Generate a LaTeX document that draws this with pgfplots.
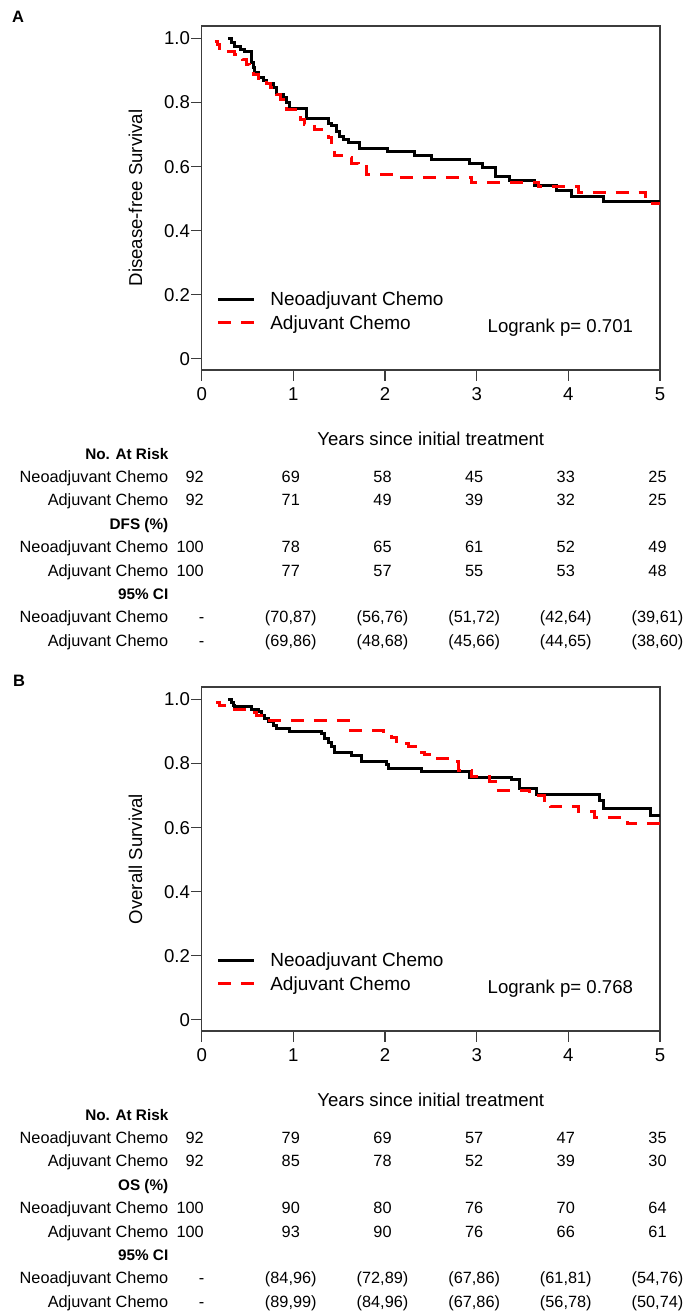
\documentclass[border=0pt]{standalone}
\usepackage{pgfplots}
\pgfplotsset{compat=1.18}
\usepackage{fontspec}
\setmainfont{Liberation Sans}
\definecolor{axgray}{RGB}{60,60,60}
\definecolor{kmred}{RGB}{255,0,0}
\newcommand\fa{\fontsize{18.6}{22}\selectfont}
\newcommand\fl{\fontsize{19}{23}\selectfont}
\newcommand\ft{\fontsize{16.3}{19}\selectfont}
\newcommand\fb{\fontsize{15.3}{18}\selectfont\bfseries}
% table row: y, label, col0, c1..c5
\newcommand\tabrow[7]{%
  \node[anchor=base east,inner sep=0pt,font=\ft] at (168.5pt,-#1pt) {#2};
  \node[anchor=base east,inner sep=0pt,font=\ft] at (204pt,-#1pt) {#3};
  \node[anchor=base,inner sep=0pt,font=\ft] at (290.8pt,-#1pt) {#4};
  \node[anchor=base,inner sep=0pt,font=\ft] at (382.5pt,-#1pt) {#5};
  \node[anchor=base,inner sep=0pt,font=\ft] at (474.2pt,-#1pt) {#6};
  \node[anchor=base,inner sep=0pt,font=\ft] at (565.8pt,-#1pt) {#7};
}
\newcommand\lastcol[2]{\node[anchor=base,inner sep=0pt,font=\ft] at (657.5pt,-#1pt) {#2};}
\newcommand\dashrow[1]{\node[anchor=base,inner sep=0pt,font=\ft] at (201.7pt,-#1pt) {-};}
\newcommand\head[2]{\node[anchor=base east,inner sep=0pt,font=\fb] at (168.5pt,-#1pt) {#2};}
\pgfplotsset{
  kmaxis/.style={
    scale only axis, width=458.3pt, height=344pt,
    xmin=0, xmax=5, ymin=-0.035, ymax=1.039,
    axis line style={axgray, line width=1.3pt},
    xtick={0,1,2,3,4,5}, xticklabels={0,1,2,3,4,5},
    ytick={0,0.2,0.4,0.6,0.8,1}, yticklabels={0,0.2,0.4,0.6,0.8,1.0},
    tick align=outside, major tick length=10.5pt,
    xtick pos=left, ytick pos=left,
    every tick/.style={axgray, line width=1.3pt},
    tick label style={font=\fa},
    /pgf/number format/assume math mode=true,
    xticklabel style={anchor=north, inner sep=0pt, yshift=-7pt},
    yticklabel style={anchor=east, inner sep=0pt, xshift=-1pt},
    legend image code/.code={\draw[##1] (0pt,1.7pt) -- (35.6pt,1.7pt);},
    legend cell align=left,
    legend style={draw=none, fill=none, inner sep=0pt, outer sep=0pt,
      font=\fl, row sep=5.3pt, at={(axis cs:0.1636,0.209)}, anchor=north west,
      nodes={inner sep=0pt, text height=14pt, text depth=4pt},
      /tikz/every odd column/.append style={column sep=15pt}},
  },
  neo/.style={black, line width=3pt, const plot},
  adj/.style={kmred, line width=3pt, const plot, dash pattern=on 13pt off 10pt},
}
\begin{document}
\begin{tikzpicture}
\useasboundingbox (0pt,0pt) rectangle (686pt,-1314pt);
% ---------------- Panel A ----------------
\begin{axis}[kmaxis, at={(201.7pt,-370pt)}, anchor=south west]
\addplot[neo] coordinates {
(0.287,1.0) (0.32,0.989) (0.36,0.976) (0.42,0.966) (0.47,0.958) (0.542,0.924)
(0.56,0.91) (0.579,0.893) (0.615,0.877) (0.67,0.869) (0.706,0.861) (0.779,0.846)
(0.815,0.825) (0.888,0.815) (0.924,0.799) (0.953,0.780) (1.143,0.749) (1.379,0.736)
(1.416,0.728) (1.470,0.71) (1.507,0.695) (1.543,0.684) (1.598,0.676) (1.725,0.658)
(2.027,0.646) (2.318,0.634) (2.507,0.622) (2.926,0.609) (3.060,0.596) (3.210,0.570)
(3.362,0.556) (3.635,0.542) (3.872,0.525) (4.036,0.507) (4.381,0.492) (5.0,0.492)};
\addlegendentry{Neoadjuvant Chemo}
\addplot[adj] coordinates {
(0.142,0.992) (0.17,0.98) (0.197,0.968) (0.27,0.958) (0.36,0.95) (0.45,0.934)
(0.49,0.919) (0.524,0.90) (0.56,0.888) (0.62,0.875) (0.651,0.867) (0.706,0.861)
(0.75,0.846) (0.815,0.825) (0.86,0.81) (0.888,0.799) (0.924,0.778) (1.08,0.747)
(1.12,0.731) (1.234,0.716) (1.379,0.69) (1.416,0.665) (1.452,0.634) (1.55,0.627)
(1.634,0.611) (1.707,0.601) (1.80,0.576) (2.107,0.565) (2.944,0.551) (3.67,0.537)
(4.11,0.52) (4.84,0.486) (5.0,0.486)};
\addlegendentry{Adjuvant Chemo}
\end{axis}
\node[anchor=base west,inner sep=0pt,font=\fa] at (487.5pt,-332.7pt) {Logrank p= 0.701};
\node[anchor=base,inner sep=0pt,font=\fa] at (430.8pt,-445pt) {Years since initial treatment};
\node[anchor=base,rotate=90,inner sep=0pt,font=\fa] at (142pt,-198pt) {Disease-free Survival};
\node[anchor=base west,inner sep=0pt,font=\fontsize{16.5}{19}\selectfont\bfseries] at (12pt,-22.3pt) {A};
\head{459}{No. At Risk}
\tabrow{482.4}{Neoadjuvant Chemo}{92}{69}{58}{45}{33}\lastcol{482.4}{25}
\tabrow{505.8}{Adjuvant Chemo}{92}{71}{49}{39}{32}\lastcol{505.8}{25}
\head{529.2}{DFS (\%)}
\tabrow{552.6}{Neoadjuvant Chemo}{100}{78}{65}{61}{52}\lastcol{552.6}{49}
\tabrow{576}{Adjuvant Chemo}{100}{77}{57}{55}{53}\lastcol{576}{48}
\head{599.4}{95\% CI}
\tabrow{622.8}{Neoadjuvant Chemo}{}{(70,87)}{(56,76)}{(51,72)}{(42,64)}\lastcol{622.8}{(39,61)}\dashrow{622.8}
\tabrow{646.2}{Adjuvant Chemo}{}{(69,86)}{(48,68)}{(45,66)}{(44,65)}\lastcol{646.2}{(38,60)}\dashrow{646.2}
% ---------------- Panel B ----------------
\begin{axis}[kmaxis, at={(201.7pt,-1031pt)}, anchor=south west]
\addplot[neo] coordinates {
(0.287,1.0) (0.32,0.99) (0.342,0.982) (0.36,0.979) (0.542,0.969) (0.615,0.961)
(0.651,0.951) (0.688,0.941) (0.724,0.93) (0.779,0.92) (0.815,0.911) (0.961,0.901)
(1.306,0.894) (1.343,0.878) (1.379,0.865) (1.416,0.852) (1.452,0.836) (1.634,0.826)
(1.743,0.807) (2.016,0.797) (2.034,0.784) (2.398,0.774) (2.926,0.758) (3.381,0.749)
(3.472,0.722) (3.654,0.703) (4.345,0.684) (4.381,0.659) (4.891,0.639) (5.0,0.639)};
\addlegendentry{Neoadjuvant Chemo}
\addplot[adj] coordinates {
(0.16,0.99) (0.197,0.98) (0.25,0.969) (0.542,0.96) (0.6,0.95) (0.7,0.935)
(1.6,0.902) (1.98,0.893) (2.07,0.881) (2.12,0.862) (2.26,0.853) (2.33,0.836)
(2.43,0.829) (2.5,0.815) (2.74,0.805) (2.8,0.779) (2.944,0.761) (3.144,0.743)
(3.2,0.717) (3.58,0.70) (3.745,0.685) (3.8,0.665) (4.11,0.649) (4.29,0.633)
(4.58,0.628) (4.64,0.6125) (5.0,0.6125)};
\addlegendentry{Adjuvant Chemo}
\end{axis}
\node[anchor=base west,inner sep=0pt,font=\fa] at (487.5pt,-993.7pt) {Logrank p= 0.768};
\node[anchor=base,inner sep=0pt,font=\fa] at (430.8pt,-1106pt) {Years since initial treatment};
\node[anchor=base,rotate=90,inner sep=0pt,font=\fa] at (142pt,-859pt) {Overall Survival};
\node[anchor=base west,inner sep=0pt,font=\fontsize{16.5}{19}\selectfont\bfseries] at (13pt,-686.7pt) {B};
\head{1120}{No. At Risk}
\tabrow{1143.4}{Neoadjuvant Chemo}{92}{79}{69}{57}{47}\lastcol{1143.4}{35}
\tabrow{1166.8}{Adjuvant Chemo}{92}{85}{78}{52}{39}\lastcol{1166.8}{30}
\head{1190.2}{OS (\%)}
\tabrow{1213.6}{Neoadjuvant Chemo}{100}{90}{80}{76}{70}\lastcol{1213.6}{64}
\tabrow{1237}{Adjuvant Chemo}{100}{93}{90}{76}{66}\lastcol{1237}{61}
\head{1260.4}{95\% CI}
\tabrow{1283.8}{Neoadjuvant Chemo}{}{(84,96)}{(72,89)}{(67,86)}{(61,81)}\lastcol{1283.8}{(54,76)}\dashrow{1283.8}
\tabrow{1307.2}{Adjuvant Chemo}{}{(89,99)}{(84,96)}{(67,86)}{(56,78)}\lastcol{1307.2}{(50,74)}\dashrow{1307.2}
\end{tikzpicture}
\end{document}
